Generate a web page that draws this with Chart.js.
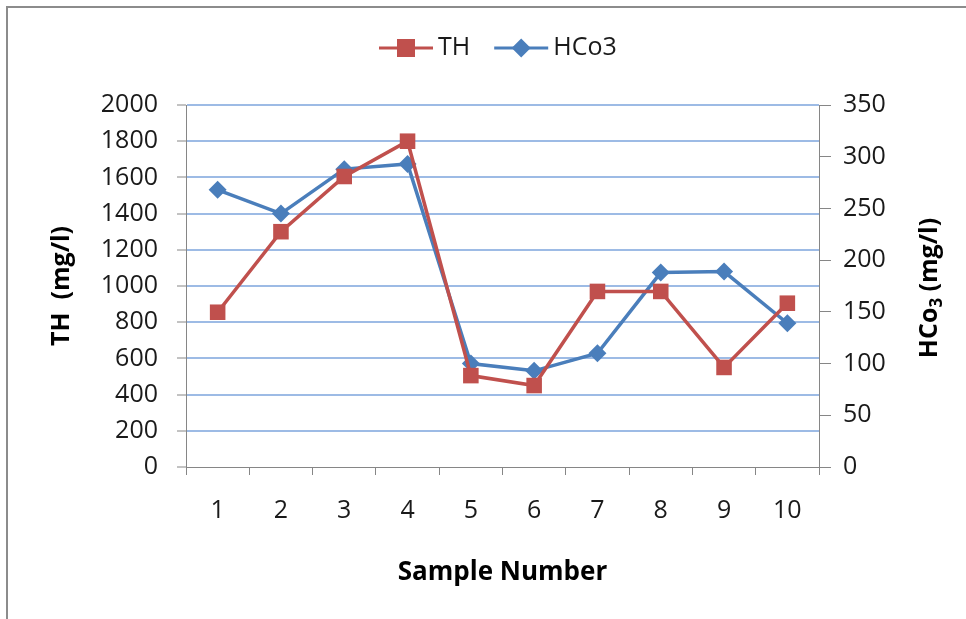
<!DOCTYPE html>
<html>
<head>
<meta charset="utf-8">
<script src="https://cdn.jsdelivr.net/npm/chart.js@4/dist/chart.umd.min.js"></script>
<style>
  body { margin: 0; background: #fff; }
  canvas { display: block; }
</style>
</head>
<body>
<canvas id="graphique" width="966" height="619"></canvas>
<script>
// valeurs par échantillon
const sampleNumbers = ['1', '2', '3', '4', '5', '6', '7', '8', '9', '10'];
const thValues = [855, 1300, 1605, 1800, 505, 450, 970, 970, 550, 905];
const hco3Values = [268, 245, 288, 293, 100, 93, 110, 188, 189, 139];

const thLabel = 'TH';
const hco3Label = 'HCo3';
const leftTitle = 'TH  (mg/l)';
const bottomTitle = 'Sample Number';

const rouge = '#C0504D';
const bleu = '#4A7EBB';
const gris = '#868686';
const grille = '#9DBBE5';
const police = "'Open Sans'";

Chart.defaults.font.family = police;
Chart.defaults.font.size = 25;
Chart.defaults.color = '#1a1a1a';

// cadre gris autour du graphique
const cadre = {
    id: 'cadre',
    beforeDraw(chart) {
        const ctx = chart.ctx;
        ctx.save();
        ctx.fillStyle = '#fff';
        ctx.fillRect(0, 0, chart.width, chart.height);
        ctx.strokeStyle = '#8c8c8c';
        ctx.lineWidth = 2;
        ctx.beginPath();
        ctx.moveTo(7, chart.height);
        ctx.lineTo(7, 7);
        ctx.lineTo(chart.width, 7);
        ctx.stroke();
        ctx.restore();
    }
};

function dessinerMarqueur(ctx, style, x, y, taille, couleur) {
    ctx.fillStyle = couleur;
    ctx.beginPath();
    if (style === 'rect') {
        ctx.rect(x - taille / 2, y - taille / 2, taille, taille);
    } else {
        ctx.moveTo(x, y - taille / 2);
        ctx.lineTo(x + taille / 2, y);
        ctx.lineTo(x, y + taille / 2);
        ctx.lineTo(x - taille / 2, y);
        ctx.closePath();
    }
    ctx.fill();
}

// légende en haut : trait + marqueur + nom de la série
const legende = {
    id: 'legende',
    afterDraw(chart) {
        const ctx = chart.ctx;
        ctx.save();
        ctx.font = '25px ' + police;
        ctx.textBaseline = 'middle';
        let x = 379;
        const y = 48;
        chart.data.datasets.forEach(ds => {
            ctx.strokeStyle = ds.borderColor;
            ctx.lineWidth = 3;
            ctx.beginPath();
            ctx.moveTo(x, y);
            ctx.lineTo(x + 54, y);
            ctx.stroke();
            dessinerMarqueur(ctx, ds.pointStyle, x + 27, y, ds.pointStyle === 'rect' ? 18 : 19, ds.borderColor);
            ctx.fillStyle = '#1a1a1a';
            ctx.fillText(ds.label, x + 59, y);
            x += 59 + ctx.measureText(ds.label).width + 24;
        });
        ctx.restore();
    }
};

// titre de l'axe droit, écrit de bas en haut avec l'indice 3
const titreDroit = {
    id: 'titreDroit',
    afterDraw(chart) {
        const ctx = chart.ctx;
        ctx.save();
        ctx.translate(930, 288);
        ctx.rotate(-Math.PI / 2);
        ctx.textBaseline = 'middle';
        ctx.fillStyle = '#000';
        const grand = 'bold 25px ' + police;
        const petit = 'bold 17px ' + police;
        ctx.font = grand;
        const w1 = ctx.measureText('HCo').width;
        const w3 = ctx.measureText(' (mg/l)').width;
        ctx.font = petit;
        const w2 = ctx.measureText('3').width;
        let x = -(w1 + w2 + w3) / 2;
        ctx.font = grand;
        ctx.fillText('HCo', x, 0);
        x += w1;
        ctx.font = petit;
        ctx.fillText('3', x, 7);
        x += w2;
        ctx.font = grand;
        ctx.fillText(' (mg/l)', x, 0);
        ctx.restore();
    }
};

const ctx = document.getElementById('graphique').getContext('2d');

new Chart(ctx, {
    type: 'line',
    data: {
        labels: sampleNumbers,
        datasets: [
            {
                label: thLabel,
                data: thValues,
                yAxisID: 'y',
                borderColor: rouge,
                backgroundColor: rouge,
                borderWidth: 3.5,
                pointStyle: 'rect',
                pointRadius: 11,
                pointBorderWidth: 0,
                tension: 0
            },
            {
                label: hco3Label,
                data: hco3Values,
                yAxisID: 'y1',
                borderColor: bleu,
                backgroundColor: bleu,
                borderWidth: 3.5,
                pointStyle: 'rectRot',
                pointRadius: 9,
                pointBorderWidth: 0,
                tension: 0
            }
        ]
    },
    options: {
        responsive: false,
        animation: false,
        layout: { padding: { top: 105, bottom: 0, left: 0, right: 0 } },
        plugins: {
            legend: { display: false },
            tooltip: { enabled: false }
        },
        scales: {
            x: {
                offset: true,
                afterFit: s => { s.height = 152; },
                grid: {
                    offset: true,
                    drawOnChartArea: false,
                    color: gris,
                    tickLength: 8
                },
                border: { color: gris, width: 1 },
                ticks: { padding: 21, maxRotation: 0 },
                title: {
                    display: true,
                    text: bottomTitle,
                    font: { size: 26, weight: 'bold' },
                    color: '#000',
                    padding: { top: 0, bottom: 31 }
                }
            },
            y: {
                position: 'left',
                min: 0,
                max: 2000,
                afterFit: s => { s.width = 186; },
                ticks: { stepSize: 200, padding: 19, callback: v => String(v) },
                grid: {
                    color: c => c.tick && c.tick.value === 0 ? 'rgba(0,0,0,0)' : grille,
                    lineWidth: 2,
                    tickColor: gris,
                    tickWidth: 1,
                    tickLength: 9
                },
                border: { color: gris, width: 1 },
                title: {
                    display: true,
                    text: leftTitle,
                    font: { size: 25, weight: 'bold' },
                    color: '#000',
                    padding: { top: 47, bottom: 0 }
                }
            },
            y1: {
                position: 'right',
                min: 0,
                max: 350,
                afterFit: s => { s.width = 147; },
                ticks: { stepSize: 50, padding: 12, callback: v => String(v) },
                grid: {
                    drawOnChartArea: false,
                    color: gris,
                    tickLength: 12
                },
                border: { color: gris, width: 1 }
            }
        }
    },
    plugins: [cadre, legende, titreDroit]
});
</script>
</body>
</html>
